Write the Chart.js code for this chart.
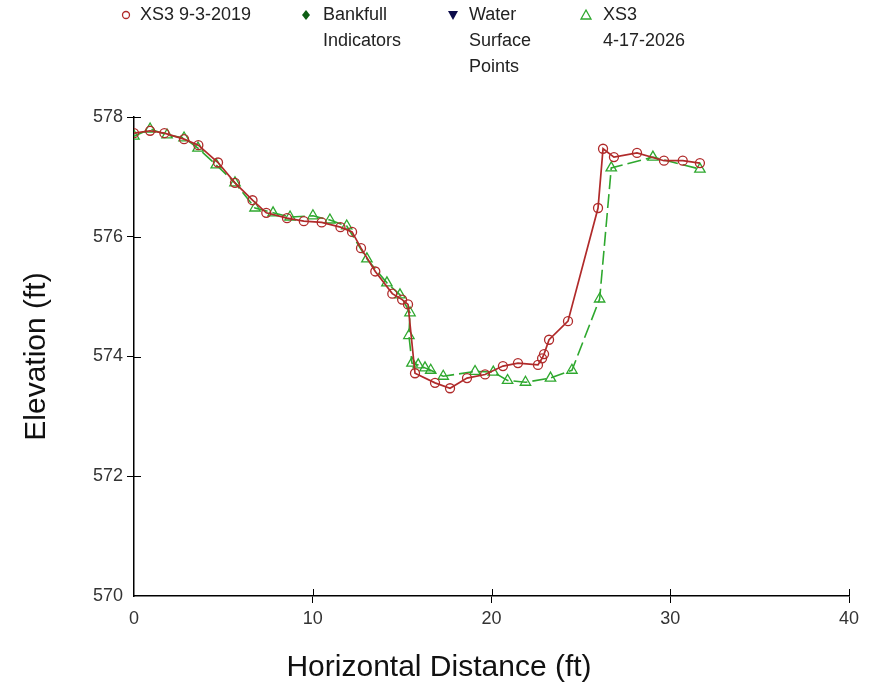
<!DOCTYPE html>
<html>
<head>
<meta charset="utf-8">
<script src="https://cdn.jsdelivr.net/npm/chart.js@4/dist/chart.umd.min.js"></script>
<style>
  html, body { margin: 0; padding: 0; background: #fff; }
  #wrap { width: 878px; height: 692px; position: relative; }
</style>
</head>
<body>
<div id="wrap"><canvas id="c" width="878" height="692"></canvas></div>
<script>
// ---- data ----
const seriesNames = ["XS3 9-3-2019", "Bankfull Indicators", "Water Surface Points", "XS3 4-17-2026"];
const legendLines = [["XS3 9-3-2019"], ["Bankfull", "Indicators"], ["Water", "Surface", "Points"], ["XS3", "4-17-2026"]];

const xs2019 = [0, 0.9, 1.7, 2.8, 3.6, 4.7, 5.65, 6.63, 7.4, 8.56, 9.5, 10.5, 11.55, 12.2, 12.7, 13.5, 14.45, 15.0, 15.33, 15.72, 16.84, 17.68, 18.63, 19.64, 20.64, 21.48, 22.6, 22.83, 22.94, 23.22, 24.28, 25.96, 26.24, 26.85, 28.14, 29.65, 30.7, 31.66];
const ys2019 = [577.73, 577.77, 577.73, 577.63, 577.53, 577.24, 576.9, 576.61, 576.4, 576.31, 576.26, 576.24, 576.16, 576.08, 575.81, 575.42, 575.05, 574.95, 574.87, 573.72, 573.56, 573.47, 573.64, 573.7, 573.84, 573.89, 573.86, 573.97, 574.04, 574.28, 574.59, 576.48, 577.47, 577.33, 577.4, 577.27, 577.27, 577.23];

const xs2026 = [0, 0.9, 1.85, 2.8, 3.58, 4.6, 5.65, 6.77, 7.78, 8.73, 10.01, 10.96, 11.9, 13.03, 14.15, 14.88, 15.44, 15.38, 15.55, 15.9, 16.28, 16.6, 17.3, 19.08, 20.1, 20.9, 21.9, 23.3, 24.5, 26.05, 26.7, 29.03, 31.66];
const ys2026 = [577.68, 577.8, 577.7, 577.65, 577.48, 577.2, 576.9, 576.48, 576.4, 576.33, 576.35, 576.28, 576.18, 575.63, 575.23, 575.03, 574.73, 574.35, 573.89, 573.86, 573.81, 573.77, 573.67, 573.75, 573.74, 573.6, 573.57, 573.64, 573.77, 574.96, 577.15, 577.33, 577.13];

const bankfullX = [];
const bankfullY = [];
const wsX = [];
const wsY = [];

const xTicks = [0, 10, 20, 30, 40];
const yTicks = [570, 572, 574, 576, 578];
const xTitle = "Horizontal Distance (ft)";
const yTitle = "Elevation (ft)";

// ---- build ----
const pts = (xa, ya) => xa.map((x, i) => ({x: x, y: ya[i]}));
const RED = '#b02a2a';
const GREEN = '#2ea82e';
const DKGREEN = '#0d5e14';
const NAVY = '#0b0b4a';
const FONT = '"Liberation Sans", Arial, sans-serif';

const overlay = {
  id: 'overlay',
  afterDraw(chart) {
    const ctx = chart.ctx;
    const xs = chart.scales.x, ys = chart.scales.y;
    const x0 = xs.getPixelForValue(0), y0 = ys.getPixelForValue(570);
    ctx.save();
    ctx.strokeStyle = '#000';
    ctx.lineWidth = 1;
    ctx.beginPath();
    xTicks.slice(1).forEach(v => { const p = Math.round(xs.getPixelForValue(v)) + 0.5; ctx.moveTo(p, y0); ctx.lineTo(p, y0 - 7); });
    yTicks.slice(1).forEach(v => { const p = Math.round(ys.getPixelForValue(v)) + 0.5; ctx.moveTo(x0, p); ctx.lineTo(x0 + 7, p); });
    ctx.stroke();

    // axis titles
    ctx.fillStyle = '#111';
    ctx.font = '30px ' + FONT;
    ctx.textAlign = 'center';
    ctx.textBaseline = 'middle';
    ctx.fillText(xTitle, 439, 668);
    ctx.save();
    ctx.translate(37, (chart.chartArea.top + chart.chartArea.bottom) / 2);
    ctx.rotate(-Math.PI / 2);
    ctx.fillText(yTitle, 0, 0);
    ctx.restore();

    // legend
    const markX = [126, 306, 453, 586];
    const textX = [140, 323, 469, 603];
    const lineY = [15, 41, 67];
    ctx.font = '18px ' + FONT;
    ctx.textAlign = 'left';
    ctx.fillStyle = '#222';
    legendLines.forEach((lines, i) => lines.forEach((t, j) => ctx.fillText(t, textX[i], lineY[j])));
    // markers
    const my = 15;
    ctx.lineWidth = 1.3;
    ctx.strokeStyle = RED;
    ctx.beginPath(); ctx.arc(markX[0], my, 3.5, 0, Math.PI * 2); ctx.stroke();
    ctx.fillStyle = DKGREEN;
    ctx.beginPath(); ctx.moveTo(markX[1], my - 5); ctx.lineTo(markX[1] + 4, my); ctx.lineTo(markX[1], my + 5); ctx.lineTo(markX[1] - 4, my); ctx.closePath(); ctx.fill();
    ctx.fillStyle = NAVY;
    ctx.beginPath(); ctx.moveTo(markX[2] - 5, my - 4); ctx.lineTo(markX[2] + 5, my - 4); ctx.lineTo(markX[2], my + 5); ctx.closePath(); ctx.fill();
    ctx.strokeStyle = GREEN;
    ctx.beginPath(); ctx.moveTo(markX[3], my - 5); ctx.lineTo(markX[3] + 5, my + 4); ctx.lineTo(markX[3] - 5, my + 4); ctx.closePath(); ctx.stroke();
    ctx.restore();
  }
};

new Chart(document.getElementById('c'), {
  type: 'scatter',
  data: {
    datasets: [
      { label: seriesNames[0], data: pts(xs2019, ys2019), showLine: true, borderColor: RED, borderWidth: 1.7,
        pointStyle: 'circle', pointRadius: 4.5, pointBorderWidth: 1.3, pointBackgroundColor: 'rgba(255,255,255,0)', pointBorderColor: RED, tension: 0 },
      { label: seriesNames[1], data: pts(bankfullX, bankfullY), pointStyle: 'rectRot', backgroundColor: DKGREEN, borderColor: DKGREEN },
      { label: seriesNames[2], data: pts(wsX, wsY), pointStyle: 'triangle', rotation: 180, backgroundColor: NAVY, borderColor: NAVY },
      { label: seriesNames[3], data: pts(xs2026, ys2026), showLine: true, borderColor: GREEN, borderWidth: 1.6, borderDash: [14, 5],
        pointStyle: 'triangle', pointRadius: 6, pointBorderWidth: 1.3, pointBackgroundColor: 'rgba(255,255,255,0)', pointBorderColor: GREEN, tension: 0 }
    ]
  },
  options: {
    responsive: false,
    animation: false,
    layout: { padding: { top: 117, right: 29, left: 0, bottom: 0 } },
    plugins: { legend: { display: false }, tooltip: { enabled: false } },
    scales: {
      x: {
        type: 'linear', min: 0, max: 40,
        afterBuildTicks: s => { s.ticks = xTicks.map(v => ({value: v})); },
        afterFit: s => { s.height = 96; },
        ticks: { color: '#333', font: { size: 18, family: FONT }, padding: 5, maxRotation: 0 },
        grid: { drawOnChartArea: false, drawTicks: true, tickLength: 7, color: c => c.index === 0 ? 'rgba(0,0,0,0)' : '#000', lineWidth: 1 },
        border: { display: true, color: '#000', width: 1.5 }
      },
      y: {
        type: 'linear', min: 570, max: 578,
        afterBuildTicks: s => { s.ticks = yTicks.map(v => ({value: v})); },
        afterFit: s => { s.width = 134; },
        ticks: { color: '#333', font: { size: 18, family: FONT }, padding: 4 },
        grid: { drawOnChartArea: false, drawTicks: true, tickLength: 7, color: c => c.index === 0 ? 'rgba(0,0,0,0)' : '#000', lineWidth: 1 },
        border: { display: true, color: '#000', width: 1.5 }
      }
    }
  },
  plugins: [overlay]
});
</script>
</body>
</html>
